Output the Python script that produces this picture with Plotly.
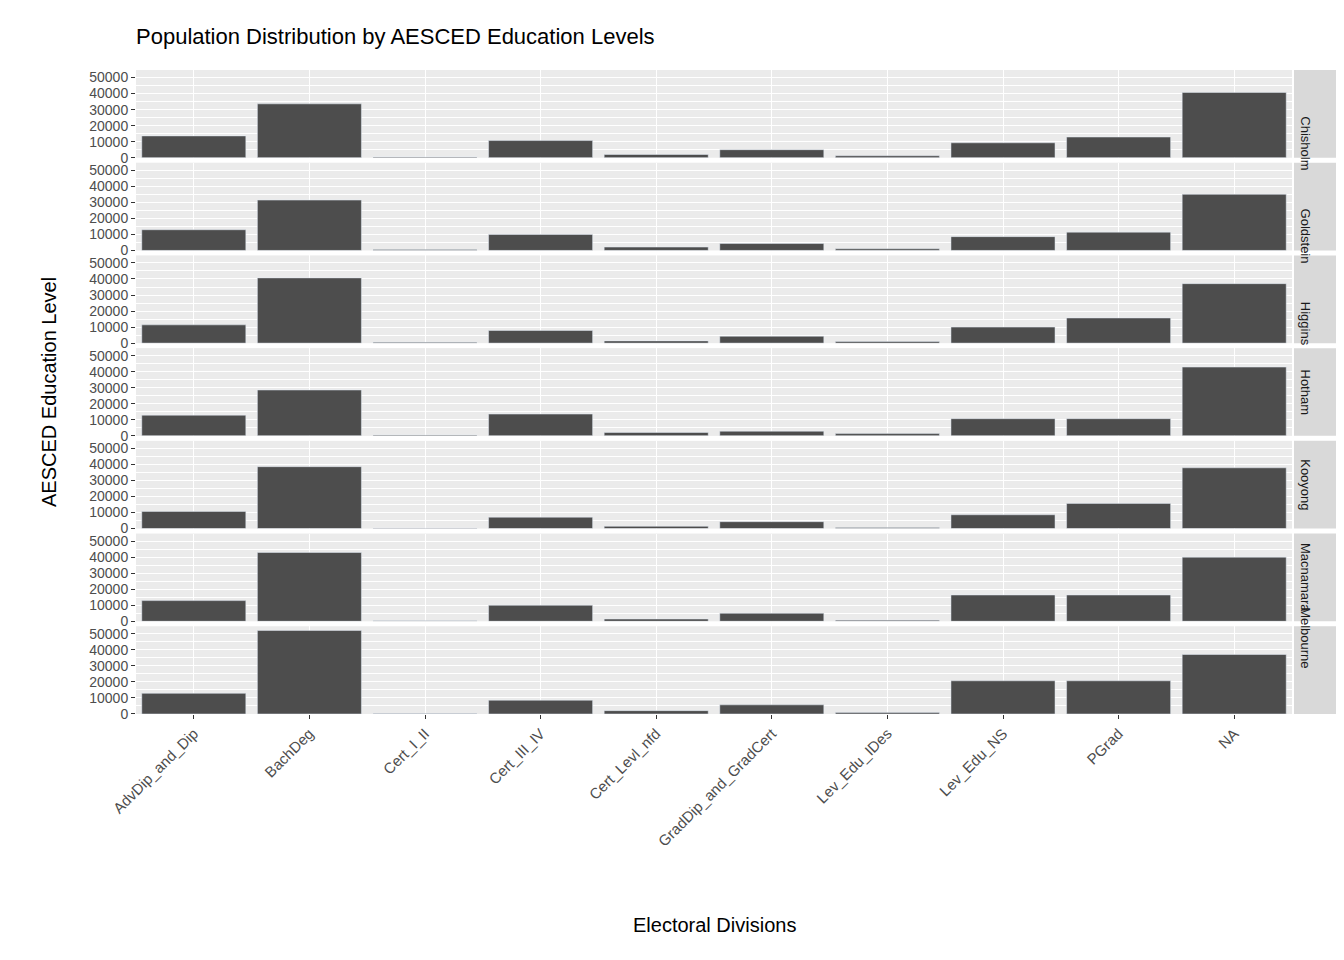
import plotly.graph_objects as go

levels = ["AdvDip_and_Dip", "BachDeg", "Cert_I_II", "Cert_III_IV", "Cert_Levl_nfd",
          "GradDip_and_GradCert", "Lev_Edu_IDes", "Lev_Edu_NS", "PGrad", "NA"]
divisions = ["Chisholm", "Goldstein", "Higgins", "Hotham", "Kooyong", "Macnamara", "Melbourne"]

chisholm = [13600, 33600, 500, 10700, 2000, 5000, 1200, 9300, 12900, 40700]
goldstein = [12900, 31400, 500, 10000, 2100, 4300, 1000, 8600, 11400, 35000]
higgins = [11400, 40700, 500, 7900, 1400, 4300, 1000, 10000, 15700, 37100]
hotham = [12900, 28600, 500, 13600, 2100, 2900, 1400, 10700, 10700, 42900]
kooyong = [10700, 38600, 300, 7100, 1400, 4300, 700, 8600, 15700, 37900]
macnamara = [12900, 42900, 400, 10000, 1400, 5000, 700, 16400, 16400, 40000]
melbourne = [12900, 52100, 300, 8600, 2100, 5700, 1000, 20700, 20700, 37100]
series = [chisholm, goldstein, higgins, hotham, kooyong, macnamara, melbourne]

W, H = 1344, 960
left, right = 128 / W, 1284 / W
top, bottom = 1 - 62 / H, 1 - 706 / H
gap = 5 / H
n = len(divisions)
ph = (top - bottom - gap * (n - 1)) / n

fig = go.Figure()
layout = dict(
    width=W, height=H, plot_bgcolor="#EBEBEB", paper_bgcolor="white",
    showlegend=False, bargap=0.1,
    margin=dict(l=0, r=0, t=0, b=0, autoexpand=False),
    font=dict(family="Liberation Sans, Arial", color="#4D4D4D", size=15),
    title=dict(text="Population Distribution by AESCED Education Levels",
               x=128 / W, xanchor="left", y=1 - 28 / H, yanchor="middle",
               font=dict(size=22, color="black")),
)
shapes, annots = [], []
for i, (name, vals) in enumerate(zip(divisions, series)):
    k = "" if i == 0 else str(i + 1)
    y1 = top - i * (ph + gap)
    y0 = y1 - ph
    fig.add_trace(go.Bar(x=levels, y=vals, marker_color="#4D4D4D",
                         xaxis="x" + k, yaxis="y" + k))
    layout["yaxis" + k] = dict(
        domain=[y0, y1], anchor="x" + k, range=[0, 54700], automargin=False,
        tickvals=[0, 10000, 20000, 30000, 40000, 50000], tickformat="d",
        tickfont=dict(size=14, color="#4D4D4D"), ticks="outside", ticklen=4,
        tickcolor="#333", gridcolor="white", gridwidth=1.2, zeroline=False,
        minor=dict(dtick=5000, gridcolor="white", gridwidth=0.6, showgrid=True),
    )
    layout["xaxis" + k] = dict(
        domain=[left, right], anchor="y" + k, matches="x" if i else None,
        automargin=False,
        showticklabels=(i == n - 1), ticks="outside" if i == n - 1 else "",
        ticklen=4, tickcolor="#333", tickangle=-45,
        tickfont=dict(size=15, color="#4D4D4D"), gridcolor="white", gridwidth=1.2,
    )
    shapes.append(dict(type="rect", xref="paper", yref="paper",
                       x0=1286 / W, x1=1328 / W, y0=y0, y1=y1,
                       fillcolor="#D9D9D9", line=dict(width=0)))
    annots.append(dict(text=name, xref="paper", yref="paper", x=1307 / W,
                       y=(y0 + y1) / 2, textangle=90, showarrow=False,
                       font=dict(size=13, color="#1A1A1A")))

annots.append(dict(text="AESCED Education Level", xref="paper", yref="paper",
                   x=28 / W, y=(top + bottom) / 2, textangle=-90, showarrow=False,
                   font=dict(size=20, color="black")))
annots.append(dict(text="Electoral Divisions", xref="paper", yref="paper",
                   x=(left + right) / 2, y=1 - 930 / H, showarrow=False,
                   font=dict(size=20, color="black")))
layout["shapes"] = shapes
layout["annotations"] = annots
fig.update_layout(**layout)
fig.write_html("out.html")
